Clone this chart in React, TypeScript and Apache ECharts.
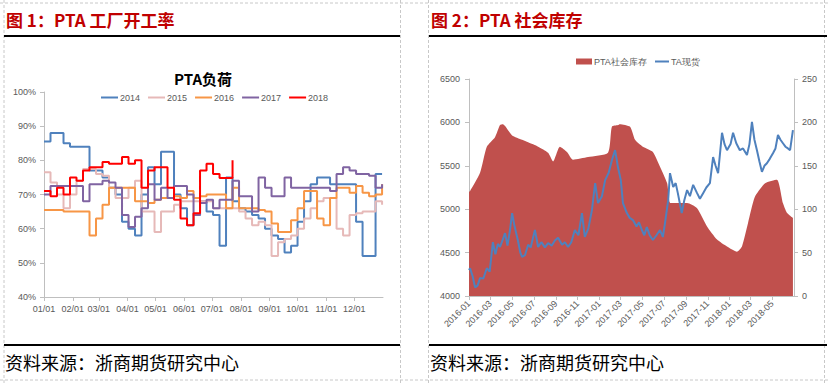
import React, { useEffect, useRef } from 'react';
import * as echarts from 'echarts';

// ---------- Left chart: PTA负荷 (weekly readings, % ) ----------
const years = ['2014', '2015', '2016', '2017', '2018'];
const monthLabels = ['01/01', '02/01', '03/01', '04/01', '05/01', '06/01', '07/01', '08/01', '09/01', '10/01', '11/01', '12/01'];
const monthStartDays = [0, 31, 59, 90, 120, 151, 181, 212, 243, 273, 304, 334];

const load2014 = [85.5, 88, 88, 85, 84, 84, 84, 77, 77, 75, 72, 70, 62, 60, 58, 70, 78, 73, 82.5, 82.5, 70, 66, 61, 64, 68, 65, 64, 55, 75, 68, 66, 65, 64, 63, 60, 58, 57, 53, 55, 62, 68, 73, 75, 75, 73, 73, 73, 73, 62, 52, 52, 76, 76];
const load2015 = [76.5, 73.5, 70, 66, 70, 74, 77.5, 77.5, 76, 75.5, 72, 69, 69, 72, 74, 65, 65, 59, 65, 65, 67, 68, 68, 68, 68, 68, 66, 66, 66, 66, 65, 63, 61, 62, 61, 52, 56, 57, 58, 60, 63, 66, 68, 69, 69, 60, 58, 64, 64.5, 65, 65, 68, 67];
const load2016 = [65.5, 65.5, 65.5, 65, 65, 65, 65, 58, 63, 67, 72, 72, 72, 72, 68, 68, 67.5, 68.5, 69, 69, 69.5, 69, 71, 69, 69.5, 70, 70, 70, 66, 72, 66, 66, 66, 65.5, 65, 61.5, 59, 59, 62.5, 66, 71, 71, 63, 61, 69, 72, 72, 70.5, 72.5, 70.5, 69.5, 70, 73];
const load2017 = [70, 72.5, 72.5, 72.5, 72.5, 72.5, 68, 73, 73, 74, 73.5, 72, 64, 60.5, 63.5, 66, 73, 68.5, 72, 69, 72.5, 72.5, 70, 64, 67.5, 68.5, 66, 68.5, 68.5, 74, 69.5, 69.5, 65, 75, 72, 69.5, 69.5, 75, 72, 72, 72, 72, 72, 72, 71, 76, 78, 77, 76, 76, 75.5, 72, 73];
const load2018 = [71, 69.5, 72, 70, 75, 74, 77, 78, 78, 79.5, 79, 79, 81, 79, 80, 72, 77, 78, 78, 72, 68.5, 63, 61, 64.5, 77, 79, 76, 74.8, 74.8, 80];

// ---------- Right chart: PTA社会库存 & TA现货 ----------
const rightTickLabels = ['2016-01', '2016-03', '2016-05', '2016-07', '2016-09', '2016-11', '2017-01', '2017-03', '2017-05', '2017-07', '2017-09', '2017-11', '2018-01', '2018-03', '2018-05'];

const invDates = ['2016-01-01', '2016-01-04', '2016-02-01', '2016-02-20', '2016-03-14', '2016-03-28', '2016-04-05', '2016-05-01', '2016-05-29', '2016-06-15', '2016-07-13', '2016-08-10', '2016-08-24', '2016-09-12', '2016-10-02', '2016-10-19', '2016-11-30', '2017-01-25', '2017-02-05', '2017-02-22', '2017-02-27', '2017-03-28', '2017-04-11', '2017-05-03', '2017-05-31', '2017-06-20', '2017-07-10', '2017-07-20', '2017-09-04', '2017-10-02', '2017-10-30', '2017-11-27', '2017-12-25', '2018-01-22', '2018-02-05', '2018-02-22', '2018-03-13', '2018-04-11', '2018-05-14', '2018-05-31', '2018-06-11', '2018-06-28'];
const invValues = [120, 121, 142, 172, 183, 197, 198, 185, 180, 177, 172, 165, 155, 172, 166, 157, 160, 165, 195, 197, 198, 195, 180, 172, 166, 149, 130, 107, 107, 101, 80, 65, 57, 51, 57, 84, 114, 130, 134, 107, 96, 90];

const spotDates = ['2016-01-01', '2016-01-04', '2016-01-11', '2016-01-18', '2016-01-25', '2016-02-01', '2016-02-10', '2016-02-20', '2016-02-28', '2016-03-08', '2016-03-15', '2016-03-22', '2016-03-28', '2016-04-04', '2016-04-11', '2016-04-18', '2016-04-25', '2016-05-01', '2016-05-08', '2016-05-17', '2016-05-24', '2016-05-29', '2016-06-06', '2016-06-15', '2016-06-22', '2016-07-04', '2016-07-13', '2016-07-22', '2016-08-01', '2016-08-10', '2016-08-20', '2016-08-29', '2016-09-07', '2016-09-18', '2016-09-26', '2016-10-05', '2016-10-14', '2016-10-24', '2016-11-03', '2016-11-13', '2016-11-21', '2016-12-01', '2016-12-11', '2016-12-20', '2016-12-28', '2017-01-08', '2017-01-17', '2017-01-27', '2017-02-05', '2017-02-14', '2017-02-22', '2017-03-02', '2017-03-08', '2017-03-19', '2017-03-27', '2017-04-05', '2017-04-15', '2017-04-22', '2017-04-30', '2017-05-07', '2017-05-14', '2017-05-22', '2017-05-31', '2017-06-10', '2017-06-20', '2017-06-28', '2017-07-04', '2017-07-13', '2017-07-18', '2017-07-27', '2017-08-03', '2017-08-09', '2017-08-20', '2017-08-27', '2017-09-04', '2017-09-12', '2017-09-21', '2017-10-02', '2017-10-10', '2017-10-19', '2017-10-28', '2017-11-07', '2017-11-16', '2017-11-23', '2017-11-30', '2017-12-11', '2017-12-18', '2017-12-25', '2018-01-04', '2018-01-11', '2018-01-20', '2018-01-30', '2018-02-08', '2018-02-19', '2018-02-26', '2018-03-05', '2018-03-12', '2018-03-19', '2018-03-26', '2018-04-02', '2018-04-09', '2018-04-16', '2018-04-24', '2018-05-03', '2018-05-10', '2018-05-17', '2018-05-24', '2018-05-31', '2018-06-07', '2018-06-14', '2018-06-20', '2018-06-28'];
const spotValues = [4300, 4320, 4230, 4100, 4120, 4207, 4200, 4320, 4280, 4620, 4480, 4600, 4565, 4640, 4725, 4580, 4760, 4955, 4800, 4645, 4500, 4450, 4470, 4590, 4560, 4760, 4565, 4620, 4560, 4610, 4580, 4640, 4670, 4590, 4620, 4565, 4620, 4760, 4700, 4955, 4680, 4780, 4990, 5300, 5070, 5150, 5335, 5420, 5565, 5680, 5485, 5335, 5070, 4955, 4900, 4875, 4800, 4850, 4760, 4700, 4795, 4700, 4645, 4700, 4760, 4680, 4840, 5105, 5415, 5255, 5300, 5185, 4955, 5100, 5220, 5150, 5280, 5185, 5120, 5185, 5250, 5300, 5600, 5500, 5415, 5880, 5750, 5680, 5750, 5880, 5760, 5680, 5700, 5625, 5750, 6005, 5800, 5680, 5550, 5430, 5500, 5530, 5580, 5645, 5700, 5855, 5800, 5760, 5720, 5700, 5680, 5910];

const yearColors = ['#4F81BD', '#E6B9B8', '#F79646', '#8064A2', '#FF0000'];
const loads = [load2014, load2015, load2016, load2017, load2018];

const DAY = 86400000;
const ORIGIN = Date.UTC(2016, 0, 1);
const dayIndex = (s: string) => {
  const [y, m, d] = s.split('-').map(Number);
  return Math.round((Date.UTC(y, m - 1, d || 1) - ORIGIN) / DAY);
};

export default function App() {
  const ref = useRef<HTMLDivElement>(null);
  useEffect(() => {
    const chart = echarts.init(ref.current!, null, { renderer: 'svg' });
    const gray = '#BFBFBF';
    const labelColor = '#595959';
    const dash = { stroke: '#C8C8C8', lineWidth: 1, lineDash: [3, 2] };
    const black = { stroke: '#000', lineWidth: 2 };
    const rightTickValues = rightTickLabels.map(dayIndex);

    const option: any = {
      animation: false,
      textStyle: { fontFamily: 'Liberation Sans, Arial, sans-serif' },
      legend: [
        {
          data: years,
          left: 96,
          top: 88,
          itemWidth: 17,
          itemHeight: 2,
          itemGap: 8,
          icon: 'rect',
          textStyle: { fontSize: 9, color: labelColor, padding: [0, 0, 0, -3] },
        },
        {
          data: ['PTA社会库存'],
          left: 571,
          top: 52,
          itemWidth: 16,
          itemHeight: 6,
          icon: 'rect',
          textStyle: { fontSize: 9, color: labelColor, padding: [0, 0, 0, -3] },
        },
        {
          data: ['TA现货'],
          left: 650,
          top: 52,
          itemWidth: 14,
          itemHeight: 2,
          icon: 'rect',
          textStyle: { fontSize: 9, color: labelColor, padding: [0, 0, 0, -3] },
        },
      ],
      grid: [
        { left: 44, top: 92, width: 339, height: 205 },
        { left: 469, top: 79, width: 325, height: 217 },
      ],
      xAxis: [
        {
          type: 'value',
          gridIndex: 0,
          min: 0,
          max: 365,
          axisLine: { show: true, lineStyle: { color: gray } },
          axisTick: { show: true, customValues: monthStartDays, length: 4, lineStyle: { color: gray } },
          axisLabel: {
            customValues: monthStartDays,
            formatter: (v: number) => monthLabels[monthStartDays.indexOf(v)] ?? '',
            fontSize: 9,
            color: labelColor,
            margin: 7,
          },
          splitLine: { show: false },
        },
        {
          type: 'value',
          gridIndex: 1,
          min: 0,
          max: dayIndex('2018-07-01'),
          axisLine: { show: true, lineStyle: { color: gray } },
          axisTick: { show: true, customValues: rightTickValues, length: 4, lineStyle: { color: gray } },
          axisLabel: {
            customValues: rightTickValues,
            formatter: (v: number) => {
              const i = rightTickValues.indexOf(v);
              return i >= 0 ? rightTickLabels[i] : '';
            },
            rotate: 45,
            fontSize: 9,
            color: labelColor,
            margin: 6,
          },
          splitLine: { show: false },
        },
      ],
      yAxis: [
        {
          type: 'value',
          gridIndex: 0,
          min: 40,
          max: 100,
          interval: 10,
          axisLine: { show: true, lineStyle: { color: gray } },
          axisTick: { show: true, length: 4, lineStyle: { color: gray } },
          axisLabel: { formatter: (v: number) => `${v}%`, fontSize: 9, color: labelColor, margin: 8 },
          splitLine: { show: false },
        },
        {
          type: 'value',
          gridIndex: 1,
          position: 'left',
          min: 4000,
          max: 6500,
          interval: 500,
          axisLine: { show: true, lineStyle: { color: gray } },
          axisTick: { show: true, length: 4, lineStyle: { color: gray } },
          axisLabel: { formatter: (v: number) => String(v), fontSize: 9, color: labelColor, margin: 9 },
          splitLine: { show: false },
        },
        {
          type: 'value',
          gridIndex: 1,
          position: 'right',
          min: 0,
          max: 250,
          interval: 50,
          axisLine: { show: true, lineStyle: { color: gray } },
          axisTick: { show: true, length: 4, lineStyle: { color: gray } },
          axisLabel: { formatter: (v: number) => String(v), fontSize: 9, color: labelColor, margin: 8 },
          splitLine: { show: false },
        },
      ],
      series: [
        ...years.map((y, k) => ({
          name: y,
          type: 'line',
          xAxisIndex: 0,
          yAxisIndex: 0,
          step: 'end',
          symbol: 'none',
          showSymbol: false,
          color: yearColors[k],
          lineStyle: { width: 2, color: yearColors[k] },
          data: loads[k].map((v, i) => [i * 7, v]),
        })),
        {
          name: 'PTA社会库存',
          type: 'line',
          xAxisIndex: 1,
          yAxisIndex: 2,
          symbol: 'none',
          showSymbol: false,
          smooth: 0.2,
          color: '#C0504D',
          lineStyle: { width: 0 },
          areaStyle: { color: '#C0504D', opacity: 1 },
          data: invDates.map((d, i) => [dayIndex(d), invValues[i]]),
        },
        {
          name: 'TA现货',
          type: 'line',
          xAxisIndex: 1,
          yAxisIndex: 1,
          symbol: 'none',
          showSymbol: false,
          color: '#4F81BD',
          lineStyle: { width: 2, color: '#4F81BD' },
          data: spotDates.map((d, i) => [dayIndex(d), spotValues[i]]),
          z: 3,
        },
      ],
      graphic: [
        { type: 'line', shape: { x1: 0, y1: 3, x2: 829, y2: 3 }, style: dash, silent: true },
        { type: 'line', shape: { x1: 0, y1: 380, x2: 829, y2: 380 }, style: dash, silent: true },
        { type: 'line', shape: { x1: 4, y1: 0, x2: 4, y2: 383 }, style: dash, silent: true },
        { type: 'line', shape: { x1: 400.5, y1: 0, x2: 400.5, y2: 383 }, style: dash, silent: true },
        { type: 'line', shape: { x1: 428.5, y1: 0, x2: 428.5, y2: 383 }, style: dash, silent: true },
        { type: 'line', shape: { x1: 824.5, y1: 0, x2: 824.5, y2: 383 }, style: dash, silent: true },
        { type: 'line', shape: { x1: 4, y1: 36, x2: 400, y2: 36 }, style: black, silent: true },
        { type: 'line', shape: { x1: 429, y1: 36, x2: 827, y2: 36 }, style: black, silent: true },
        { type: 'line', shape: { x1: 4, y1: 345, x2: 400, y2: 345 }, style: black, silent: true },
        { type: 'line', shape: { x1: 429, y1: 345, x2: 827, y2: 345 }, style: black, silent: true },
        {
          type: 'text', x: 6, y: 19,
          style: { text: '图 1：PTA 工厂开工率', fill: '#C00000', font: 'bold 17px "Noto Sans CJK SC"', verticalAlign: 'middle' },
        },
        {
          type: 'text', x: 431, y: 19,
          style: { text: '图 2：PTA 社会库存', fill: '#C00000', font: 'bold 17px "Noto Sans CJK SC"', verticalAlign: 'middle' },
        },
        {
          type: 'text', x: 203, y: 78,
          style: { text: 'PTA负荷', fill: '#000', font: 'bold 15px "Noto Sans CJK SC"', align: 'center', verticalAlign: 'middle' },
        },
        {
          type: 'text', x: 5, y: 362,
          style: { text: '资料来源：浙商期货研究中心', fill: '#000', font: '18px "Noto Sans CJK SC"', verticalAlign: 'middle' },
        },
        {
          type: 'text', x: 430, y: 362,
          style: { text: '资料来源：浙商期货研究中心', fill: '#000', font: '18px "Noto Sans CJK SC"', verticalAlign: 'middle' },
        },
      ],
    };
    chart.setOption(option);
    return () => chart.dispose();
  }, []);
  return (
    <div
      ref={ref}
      style={{ position: 'absolute', left: 0, top: 0, width: 829, height: 383, background: '#fff' }}
    />
  );
}
